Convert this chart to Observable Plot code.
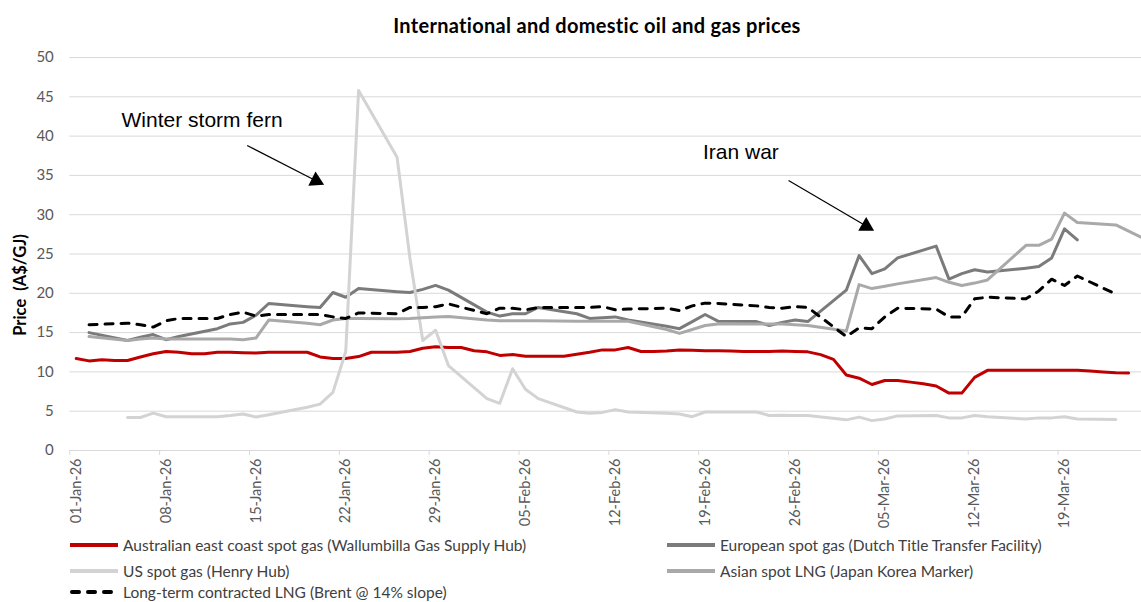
<!DOCTYPE html>
<html>
<head>
<meta charset="utf-8">
<script src="https://cdn.jsdelivr.net/npm/d3@7"></script>
<script src="https://cdn.jsdelivr.net/npm/@observablehq/plot@0.6"></script>
<style>
  html,body{margin:0;padding:0;background:#fff;}
  #wrap{position:relative;width:1141px;height:602px;font-family:Lato,"Open Sans",sans-serif;overflow:hidden;background:#fff;}
  #title{position:absolute;left:597px;top:13px;line-height:24px;transform:translateX(-50%);white-space:nowrap;font-weight:bold;font-size:20px;letter-spacing:0.3px;color:#000;}
  #chart{position:absolute;left:0;top:40px;}
  #ylabel{position:absolute;left:20px;top:285px;transform:translate(-50%,-50%) rotate(-90deg);white-space:pre;font-weight:bold;font-size:16.5px;color:#000;}
  .leg{position:absolute;display:flex;align-items:center;white-space:nowrap;font-size:15.5px;line-height:20px;height:20px;color:#404040;}
  .leg svg{margin-right:5px;}
</style>
</head>
<body>
<div id="wrap">
  <div id="title">International and domestic oil and gas prices</div>
  <div id="chart"></div>
  <div id="ylabel">Price  (A$/GJ)</div>
</div>
<script>
// ---------- DATA ----------
const seriesNames = [
  "Australian east coast spot gas (Wallumbilla Gas Supply Hub)",
  "European spot gas (Dutch Title Transfer Facility)",
  "US spot gas (Henry Hub)",
  "Asian spot LNG (Japan Korea Marker)",
  "Long-term contracted LNG (Brent @ 14% slope)"
];
const seriesColors = ["#C00000", "#7b7b7b", "#d3d3d3", "#a9a9a9", "#000000"];

// daily series (Australian east coast spot gas), starting 2026-01-01
const australianStart = "2026-01-01";
const australian = [
  11.7,11.4,11.55,11.45,11.45,11.9,12.3,12.6,12.5,12.3,
  12.3,12.5,12.5,12.45,12.4,12.5,12.5,12.5,12.5,11.9,
  11.7,11.7,11.95,12.5,12.5,12.5,12.6,13.0,13.2,13.1,
  13.1,12.7,12.55,12.1,12.2,12.0,12.0,12.0,12.0,12.25,
  12.5,12.8,12.8,13.1,12.6,12.6,12.65,12.8,12.75,12.7,
  12.7,12.65,12.6,12.6,12.6,12.65,12.6,12.55,12.2,11.6,
  9.6,9.2,8.4,8.9,8.9,8.7,8.5,8.2,7.3,7.3,
  9.3,10.2,10.2,10.2,10.2,10.2,10.2,10.2,10.2,10.1,
  10.0,9.9,9.85
];

// trading-day series
const tradingDays = [
  "2026-01-01","2026-01-02","2026-01-05","2026-01-06","2026-01-07","2026-01-08","2026-01-09",
  "2026-01-12","2026-01-13","2026-01-14","2026-01-15","2026-01-16","2026-01-19","2026-01-20",
  "2026-01-21","2026-01-22","2026-01-23","2026-01-26","2026-01-27","2026-01-28","2026-01-29","2026-01-30",
  "2026-02-02","2026-02-03","2026-02-04","2026-02-05","2026-02-06","2026-02-09","2026-02-10",
  "2026-02-11","2026-02-12","2026-02-13","2026-02-16","2026-02-17","2026-02-18","2026-02-19",
  "2026-02-20","2026-02-23","2026-02-24","2026-02-25","2026-02-26","2026-02-27",
  "2026-03-02","2026-03-03","2026-03-04","2026-03-05","2026-03-06","2026-03-09","2026-03-10",
  "2026-03-11","2026-03-12","2026-03-13","2026-03-16","2026-03-17","2026-03-18","2026-03-19",
  "2026-03-20","2026-03-23","2026-03-24","2026-03-25"
];
const european = [
  null,15.0,14.0,14.4,14.75,14.1,14.5,15.5,16.1,16.3,17.2,18.7,18.3,18.2,20.1,19.5,20.6,20.2,20.1,20.5,21.0,20.4,
  17.6,17.1,17.4,17.4,18.2,17.4,16.8,16.9,17.0,16.6,15.8,15.5,16.4,17.3,16.45,16.4,15.9,16.3,16.6,16.4,
  20.4,24.8,22.5,23.1,24.5,26.0,21.8,22.5,23.0,22.7,23.2,23.4,24.5,28.2,26.8,null,null,null
];
const usHenryHub = [
  null,null,4.2,4.2,4.75,4.3,4.3,4.3,4.45,4.65,4.25,4.55,5.5,5.9,7.4,12.6,45.8,37.3,24.5,14.0,15.3,10.8,
  6.6,6.0,10.4,7.8,6.6,4.9,4.75,4.85,5.2,4.9,4.75,4.65,4.3,4.9,4.9,4.9,4.45,4.5,4.45,4.45,
  3.9,4.25,3.8,4.0,4.4,4.45,4.15,4.15,4.45,4.3,4.0,4.15,4.15,4.3,4.0,3.95,null,null
];
const asianJKM = [
  null,14.5,14.0,14.2,14.3,14.2,14.2,14.2,14.2,14.1,14.3,16.6,16.2,16.0,16.6,16.8,16.8,16.75,16.8,16.9,17.0,17.05,
  16.6,16.5,16.5,16.5,16.5,16.45,16.45,16.45,16.45,16.45,15.4,14.9,15.4,15.9,16.1,16.1,16.1,16.1,16.0,15.9,
  15.2,21.1,20.6,20.9,21.2,22.0,21.4,21.0,21.3,21.7,26.1,26.1,26.9,30.2,29.0,28.7,27.9,27.1
];
const longTermLNG = [
  null,16.0,16.2,16.0,15.7,16.5,16.8,16.8,17.3,17.6,17.1,17.3,17.3,17.3,17.0,16.8,17.5,17.4,18.2,18.2,18.3,18.65,
  17.4,18.1,18.1,17.9,18.2,18.2,18.2,18.3,17.9,18.0,18.1,17.8,18.4,18.75,18.7,18.4,18.2,18.1,18.3,18.2,
  14.5,15.6,15.5,17.0,18.1,18.0,17.0,17.0,19.3,19.5,19.3,20.3,21.8,21.0,22.2,19.9,null,null
];

const xTickDates = ["2026-01-01","2026-01-08","2026-01-15","2026-01-22","2026-01-29","2026-02-05",
  "2026-02-12","2026-02-19","2026-02-26","2026-03-05","2026-03-12","2026-03-19"];
const yTicks = [0,5,10,15,20,25,30,35,40,45,50];

const annotationLabels = ["Winter storm fern", "Iran war"];
const annotationLabelAt = [["2026-01-05T00:45Z", 42.0], ["2026-02-19T08:00Z", 38.0]];
const arrowFrom = [["2026-01-14T19:40Z", 38.8], ["2026-02-26T00:00Z", 34.35]];
const arrowTo = [["2026-01-20T04:20Z", 34.33], ["2026-03-04T01:10Z", 28.55]];
const arrowHeadAngle = [117, 120];

// ---------- BUILD ----------
const parse = d3.utcParse("%Y-%m-%d");
const HALF_DAY = 12 * 3600e3;
const mid = d => new Date(d.getTime() + HALF_DAY);

const ausDates = d3.utcDay.range(parse(australianStart), d3.utcDay.offset(parse(australianStart), australian.length));
const ausRows = australian.map((v, i) => ({date: mid(ausDates[i]), value: v}));
const toRows = vals => tradingDays.map((d, i) => ({date: mid(parse(d)), value: vals[i]})).filter(r => r.value != null);
const euRows = toRows(european);
const usRows = toRows(usHenryHub);
const asRows = toRows(asianJKM);
const lngRows = toRows(longTermLNG);

const tickDates = xTickDates.map(parse);
const labelDates = tickDates.map(mid);
const fmt = d3.utcFormat("%d-%b-%y");

const annText = annotationLabels.map((t, i) => ({label: t, date: new Date(annotationLabelAt[i][0]), value: annotationLabelAt[i][1]}));
const arrows = arrowFrom.map((a, i) => ({x1: new Date(a[0]), y1: a[1], x2: new Date(arrowTo[i][0]), y2: arrowTo[i][1], angle: arrowHeadAngle[i]}));

const chart = Plot.plot({
  width: 1141,
  height: 495,
  marginTop: 17,
  marginBottom: 85,
  marginLeft: 69.3,
  marginRight: 0,
  x: {type: "utc", domain: [parse("2026-01-01"), new Date(Date.UTC(2026, 2, 25, 12))]},
  y: {domain: [0, 50]},
  style: {fontFamily: "Lato, sans-serif", fontSize: "15px", color: "#595959", background: "white", overflow: "visible"},
  marks: [
    Plot.gridY(yTicks, {stroke: "#d9d9d9", strokeOpacity: 1, strokeWidth: 1}),
    Plot.axisX(tickDates, {tickSize: 5, stroke: "#d9d9d9", strokeOpacity: 1, tickFormat: () => "", label: null}),
    Plot.axisX(labelDates, {tickSize: 0, tickRotate: -90, tickPadding: 8, tickFormat: fmt, fill: "#595959", fontSize: 14.5, label: null}),
    Plot.axisY(yTicks, {tickSize: 0, tickPadding: 16, label: null, fill: "#595959", fontSize: 15}),
    Plot.line(ausRows, {x: "date", y: "value", stroke: seriesColors[0], strokeWidth: 3}),
    Plot.line(euRows, {x: "date", y: "value", stroke: seriesColors[1], strokeWidth: 3}),
    Plot.line(usRows, {x: "date", y: "value", stroke: seriesColors[2], strokeWidth: 3}),
    Plot.line(asRows, {x: "date", y: "value", stroke: seriesColors[3], strokeWidth: 3}),
    Plot.line(lngRows, {x: "date", y: "value", stroke: seriesColors[4], strokeWidth: 3, strokeDasharray: "8,8"}),
    Plot.link(arrows, {x1: "x1", y1: "y1", x2: "x2", y2: "y2", stroke: "#000", strokeWidth: 1.2}),
    Plot.dot(arrows, {x: "x2", y: "y2", symbol: "triangle", r: 5.9, fill: "#000", stroke: null, rotate: "angle"}),
    Plot.text(annText, {x: "date", y: "value", text: "label", textAnchor: "start", fontSize: 21, fontFamily: "'Liberation Sans', Arial, sans-serif", fill: "#000"})
  ]
});
document.getElementById("chart").appendChild(chart);

// legend
const wrap = document.getElementById("wrap");
const legendPos = [[70, 535], [667, 535], [70, 561], [667, 561], [70, 582]];
seriesNames.forEach((name, i) => {
  const div = document.createElement("div");
  div.className = "leg";
  div.style.left = legendPos[i][0] + "px";
  div.style.top = legendPos[i][1] + "px";
  const dash = i === 4 ? ' stroke-dasharray="7,9" stroke-linecap="round"' : '';
  const x1 = i === 4 ? 2 : 0, x2 = i === 4 ? 46 : 48;
  div.innerHTML = `<svg width="48" height="8"><line x1="${x1}" y1="4" x2="${x2}" y2="4" stroke="${seriesColors[i]}" stroke-width="4"${dash}/></svg><span>${name}</span>`;
  wrap.appendChild(div);
});
</script>
</body>
</html>
